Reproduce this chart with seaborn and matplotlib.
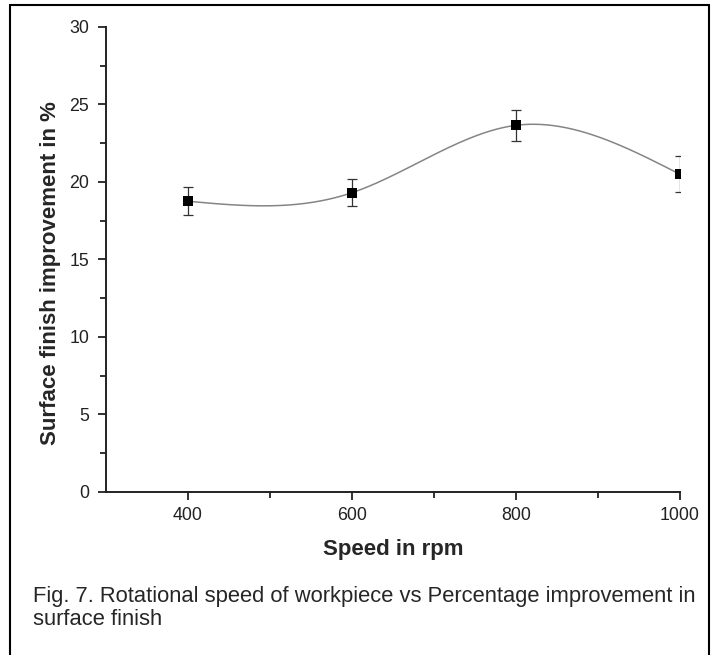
import numpy as np
import pandas as pd
import matplotlib
matplotlib.use("Agg")
import matplotlib.pyplot as plt
import seaborn as sns
from matplotlib.patches import Rectangle
from matplotlib.ticker import MultipleLocator, FixedLocator

speed = [400, 600, 800, 1000]
improvement = [18.75, 19.3, 23.65, 20.5]
error = [0.9, 0.87, 1.0, 1.15]
x_ticks = [400, 600, 800, 1000]
x_minor = [500, 700, 900]


def natural_spline(x, y, n=300):
    # natural cubic spline through the points (Origin style smooth line)
    x = np.asarray(x, float)
    y = np.asarray(y, float)
    k = len(x)
    h = np.diff(x)
    A = np.zeros((k, k))
    b = np.zeros(k)
    A[0, 0] = A[-1, -1] = 1
    for i in range(1, k - 1):
        A[i, i - 1] = h[i - 1]
        A[i, i] = 2 * (h[i - 1] + h[i])
        A[i, i + 1] = h[i]
        b[i] = 6 * ((y[i + 1] - y[i]) / h[i] - (y[i] - y[i - 1]) / h[i - 1])
    M = np.linalg.solve(A, b)
    xs = np.linspace(x[0], x[-1], n)
    idx = np.clip(np.searchsorted(x, xs) - 1, 0, k - 2)
    x0, x1, hh = x[idx], x[idx + 1], h[idx]
    ys = (M[idx] * (x1 - xs) ** 3 / (6 * hh) + M[idx + 1] * (xs - x0) ** 3 / (6 * hh)
          + (y[idx] / hh - M[idx] * hh / 6) * (x1 - xs)
          + (y[idx + 1] / hh - M[idx + 1] * hh / 6) * (xs - x0))
    return xs, ys


sns.set_theme(style="ticks")
plt.rcParams["font.family"] = ["Liberation Sans", "DejaVu Sans"]

fig = plt.figure(figsize=(7.14, 6.55), dpi=100)
ax = fig.add_axes([0.1485, 0.2493, 0.8035, 0.7095])

xs, ys = natural_spline(speed, improvement)
curve = pd.DataFrame({"speed": xs, "improvement": ys})
points = pd.DataFrame({"speed": speed, "improvement": improvement})

sns.lineplot(data=curve, x="speed", y="improvement", color="#858585", linewidth=1.1, ax=ax)
ax.errorbar(speed, improvement, yerr=error, fmt="none", ecolor="#333333",
            elinewidth=0.9, capsize=3.8, capthick=0.9)
sns.scatterplot(data=points, x="speed", y="improvement", marker="s", s=46,
                color="black", edgecolor="black", linewidth=0, ax=ax, zorder=5)

ax.set_xlim(300, 1000)
ax.set_ylim(0, 30)
ax.xaxis.set_major_locator(FixedLocator(x_ticks))
ax.xaxis.set_minor_locator(FixedLocator(x_minor))
ax.yaxis.set_major_locator(MultipleLocator(5))
ax.yaxis.set_minor_locator(MultipleLocator(2.5))
ax.tick_params(which="major", direction="out", length=6, width=1.3, colors="#222222",
               labelsize=12.8, pad=5)
ax.tick_params(which="minor", direction="out", length=4, width=1.3, colors="#222222")
ax.tick_params(axis="y", pad=6)

for side in ["top", "right"]:
    ax.spines[side].set_visible(False)
for side in ["left", "bottom"]:
    ax.spines[side].set_linewidth(1.4)
    ax.spines[side].set_color("#222222")

ax.set_xlabel("Speed in rpm", fontsize=16, fontweight="bold", labelpad=11)
ax.set_ylabel("Surface finish improvement in %", fontsize=16, fontweight="bold")
ax.yaxis.set_label_coords(-0.078, 0.47)

fig.text(0.046, 0.106, "Fig. 7. Rotational speed of workpiece vs Percentage improvement in\nsurface finish",
         fontsize=15.8, va="top", ha="left", linespacing=1.13)

fig.patches.append(Rectangle((0.014, -0.01), 0.979, 1.002, transform=fig.transFigure,
                             fill=False, edgecolor="black", linewidth=1.5, clip_on=False))

fig.savefig("out.png", dpi=100)
